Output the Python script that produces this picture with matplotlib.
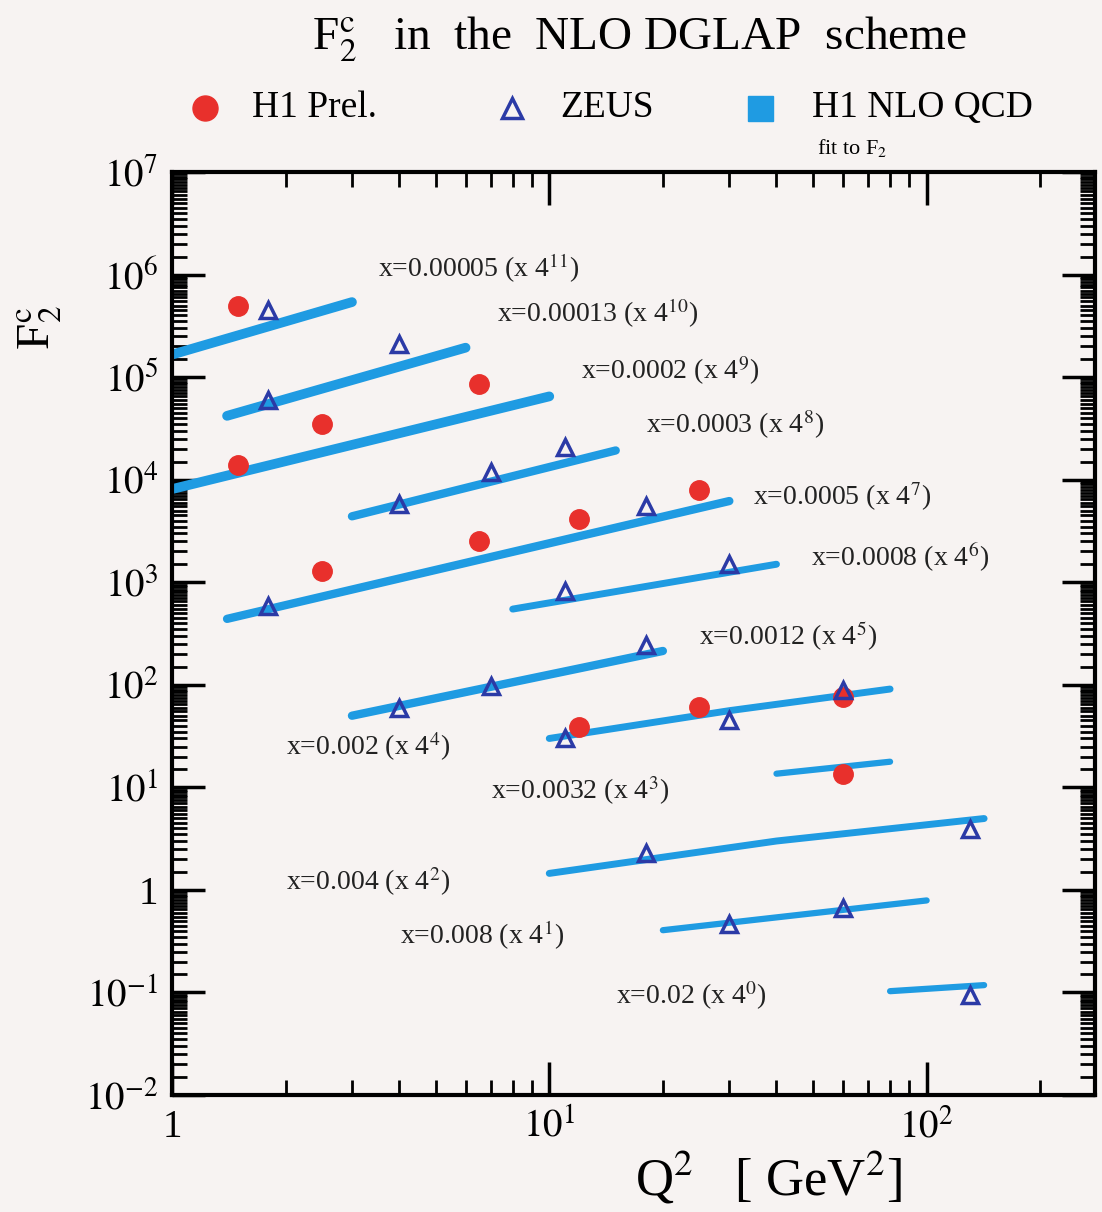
import matplotlib
matplotlib.use('Agg')
import matplotlib.pyplot as plt
from matplotlib.lines import Line2D
from matplotlib.ticker import FixedLocator, LogLocator, FuncFormatter, NullFormatter
import numpy as np

plt.rcParams['font.family'] = ['Liberation Serif', 'DejaVu Serif']
plt.rcParams['mathtext.fontset'] = 'stix'
plt.rcParams['axes.unicode_minus'] = False

# NLO QCD fit curves, one per x bin (Q2 in GeV^2, F2c scaled by 4^i)
fit_labels = ['x=0.00005 (x 4$^{11}$)', 'x=0.00013 (x 4$^{10}$)', 'x=0.0002 (x 4$^{9}$)',
              'x=0.0003 (x 4$^{8}$)', 'x=0.0005 (x 4$^{7}$)', 'x=0.0008 (x 4$^{6}$)',
              'x=0.0012 (x 4$^{5}$)', 'x=0.002 (x 4$^{4}$)', 'x=0.0032 (x 4$^{3}$)',
              'x=0.004 (x 4$^{2}$)', 'x=0.008 (x 4$^{1}$)', 'x=0.02 (x 4$^{0}$)']
fit_q2 = [[1.0, 3.0], [1.4, 6.0], [1.0, 10.0], [3.0, 15.0], [1.4, 30.0], [8.0, 40.0],
          [3.0, 20.0], [10.0, 30.0, 80.0], [40.0, 80.0], [10.0, 40.0, 142.0],
          [20.0, 100.0], [80.0, 142.0]]
fit_f2 = [[1.66e5, 5.4e5], [4.2e4, 1.94e5], [8.1e3, 6.5e4], [4.4e3, 1.93e4],
          [440, 6.2e3], [548, 1.5e3], [50, 214], [30, 56, 91], [13.6, 17.8],
          [1.45, 3.0, 4.97], [0.405, 0.79], [0.103, 0.118]]

# label anchor points (Q2, F2)
label_q2 = [3.52, 7.25, 12.1, 18.0, 34.7, 49.5, 25.0, 2.01, 7.0, 2.01, 4.03, 15.0]
label_f2 = [1.16e6, 4.16e5, 1.16e5, 3.46e4, 6.9e3, 1.76e3, 300, 25, 9.3, 1.21, 0.361, 0.094]

# H1 preliminary
h1_q2 = [1.5, 1.5, 2.5, 6.5, 2.5, 6.5, 12, 25, 12, 25, 60, 60]
h1_f2 = [4.9e5, 1.4e4, 3.5e4, 8.5e4, 1.29e3, 2.5e3, 4.1e3, 7.9e3, 39, 61, 76, 13.6]

# ZEUS
zeus_q2 = [1.8, 1.8, 4.0, 4.0, 7.0, 11, 1.8, 18, 11, 30, 4, 7, 18, 11, 30, 60,
           18, 130, 30, 60, 130]
zeus_f2 = [4.5e5, 6.05e4, 2.1e5, 5.8e3, 1.18e4, 2.07e4, 587, 5.5e3, 820, 1.5e3,
           60, 98, 245, 30, 45, 90, 2.27, 3.97, 0.47, 0.66, 0.095]

fit_color = '#1f9be2'
h1_color = '#e8302c'
zeus_color = '#2b3aa6'
bg = '#f7f3f2'

fig = plt.figure(figsize=(11.02, 12.12), dpi=100, facecolor=bg)
ax = fig.add_axes([0.156, 0.0965, 0.838, 0.7615], facecolor=bg)
ax.set_xscale('log')
ax.set_yscale('log')

widths = [7, 7, 7, 6, 6, 5, 6, 5, 4.5, 5, 4.5, 4.5]
for q, f, lw in zip(fit_q2, fit_f2, widths):
    ax.plot(q, f, color=fit_color, lw=lw, solid_capstyle='round', zorder=2)

for lab, lq, lf in zip(fit_labels, label_q2, label_f2):
    ax.text(lq, lf, lab, fontsize=20, ha='left', va='center', color='#222222')

ax.plot(h1_q2, h1_f2, 'o', color=h1_color, ms=14, mec=h1_color, zorder=3)
ax.plot(zeus_q2, zeus_f2, '^', mfc='none', mec=zeus_color, mew=2.5, ms=12, zorder=4)

ax.set_xlim(1, 280)
ax.set_ylim(1e-2, 1e7)

ax.xaxis.set_major_locator(FixedLocator([1, 10, 100]))
ax.xaxis.set_major_formatter(FuncFormatter(
    lambda v, p: '1' if v == 1 else '$10^{%d}$' % round(np.log10(v))))
ax.xaxis.set_minor_locator(LogLocator(base=10, subs=np.arange(2, 10)))
ax.xaxis.set_minor_formatter(NullFormatter())

ax.yaxis.set_major_locator(FixedLocator([10.0 ** k for k in range(-2, 8)]))
ax.yaxis.set_major_formatter(FuncFormatter(
    lambda v, p: '1' if v == 1 else '$10^{%d}$' % round(np.log10(v))))
ax.yaxis.set_minor_locator(LogLocator(base=10, subs=np.arange(1.5, 10, 0.5), numticks=30))
ax.yaxis.set_minor_formatter(NullFormatter())

ax.tick_params(which='both', direction='in', top=True, right=True, labelsize=28)
ax.tick_params(which='major', length=24, width=2.5, pad=10)
ax.tick_params(which='minor', length=11, width=2)
for s in ax.spines.values():
    s.set_linewidth(3)

# title and axis titles
fig.text(0.58, 0.968, r'F$_2^{\rm c}$   in  the  NLO DGLAP  scheme', fontsize=34,
         ha='center', va='center')
fig.text(0.036, 0.73, r'F$_2^{\rm c}$', fontsize=34, rotation=90, ha='center', va='center')
fig.text(0.697, 0.028, r'Q$^2$   [ GeV$^2$]', fontsize=38, ha='center', va='center')

# legend
fig.add_artist(Line2D([0.186], [0.911], marker='o', color=h1_color, ms=18,
                      transform=fig.transFigure))
fig.text(0.229, 0.911, 'H1 Prel.', fontsize=27, ha='left', va='center')
fig.add_artist(Line2D([0.465], [0.911], marker='^', mfc='none', mec=zeus_color, mew=2.5,
                      ms=15, transform=fig.transFigure))
fig.text(0.508, 0.911, 'ZEUS', fontsize=27, ha='left', va='center')
fig.add_artist(Line2D([0.690], [0.911], marker='s', color=fit_color, ms=18,
                      transform=fig.transFigure))
fig.text(0.737, 0.911, 'H1 NLO QCD', fontsize=27, ha='left', va='center')
fig.text(0.741, 0.878, r'fit to F$_2$', fontsize=16, ha='left', va='center')

fig.savefig('out.png', dpi=100, facecolor=bg)
